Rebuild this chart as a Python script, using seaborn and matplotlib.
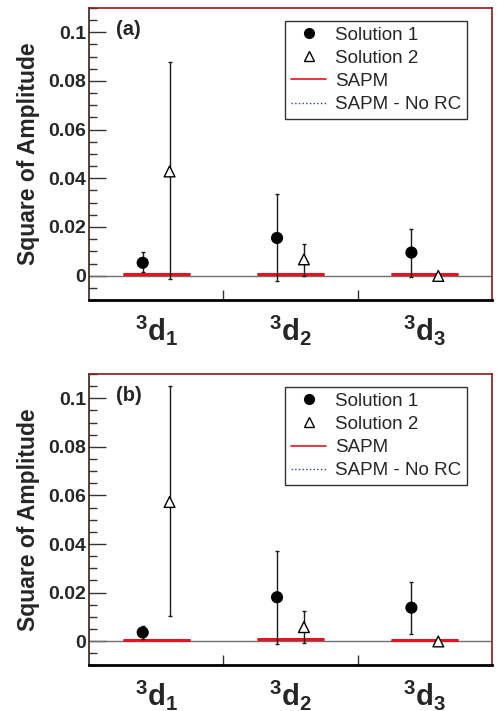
import numpy as np
import pandas as pd
import seaborn as sns
import matplotlib.pyplot as plt
from matplotlib.ticker import MultipleLocator, FixedLocator
from matplotlib.lines import Line2D

# partial waves
waves = ['3d1', '3d2', '3d3']
tick_labels = [r'$^{\mathbf{3}}\mathbf{d}_{\mathbf{1}}$',
               r'$^{\mathbf{3}}\mathbf{d}_{\mathbf{2}}$',
               r'$^{\mathbf{3}}\mathbf{d}_{\mathbf{3}}$']

# panel (a)
a_sol1 = [0.0053, 0.0155, 0.0095]
a_sol1_lo = [0.0014, -0.0022, -0.0004]
a_sol1_hi = [0.0096, 0.0335, 0.0193]
a_sol2 = [0.0428, 0.0067, -0.0001]
a_sol2_lo = [-0.0014, 0.0000, -0.0001]
a_sol2_hi = [0.0878, 0.0132, -0.0001]
a_sapm = [0.0007, 0.0008, 0.0007]
a_sapm_norc = [0.0007, 0.0008, 0.0007]

# panel (b)
b_sol1 = [0.0036, 0.0181, 0.0138]
b_sol1_lo = [0.0010, -0.0012, 0.0030]
b_sol1_hi = [0.0062, 0.0371, 0.0245]
b_sol2 = [0.0573, 0.0058, -0.0001]
b_sol2_lo = [0.0103, -0.0008, -0.0001]
b_sol2_hi = [0.1050, 0.0124, -0.0001]
b_sapm = [0.0007, 0.0008, 0.0007]
b_sapm_norc = [0.0007, 0.0008, 0.0007]

sns.set_theme(style='ticks')
plt.rcParams['font.family'] = ['Liberation Sans', 'DejaVu Sans']
plt.rcParams['mathtext.fontset'] = 'custom'
plt.rcParams['mathtext.bf'] = 'Liberation Sans:bold'
plt.rcParams['mathtext.rm'] = 'Liberation Sans:bold'

frame_red = '#8b1a1a'


def draw_panel(ax, tag, sol1, s1lo, s1hi, sol2, s2lo, s2hi, sapm, sapm_norc):
    idx = np.arange(len(waves)) + 0.5
    df = pd.DataFrame({
        'x': np.concatenate([idx - 0.1, idx + 0.1]),
        'y': sol1 + sol2,
        'lo': s1lo + s2lo,
        'hi': s1hi + s2hi,
        'sol': ['Solution 1'] * 3 + ['Solution 2'] * 3,
    })

    ax.axhline(0, color='#707070', lw=1.0, zorder=1)
    ax.hlines(sapm_norc, idx - 0.25, idx + 0.25, colors='#2b3fa0', lw=1.0,
              linestyles=':', zorder=2)
    ax.hlines(sapm, idx - 0.25, idx + 0.25, colors='#e8121e', lw=2.2, zorder=3)

    for _, r in df.iterrows():
        if r['hi'] - r['lo'] > 1e-4:
            ax.errorbar(r['x'], r['y'], yerr=[[r['y'] - r['lo']], [r['hi'] - r['y']]],
                        fmt='none', ecolor='#1a1a1a', elinewidth=1.0, capsize=1.5,
                        capthick=1.0, zorder=4)

    sns.scatterplot(data=df, x='x', y='y', style='sol', hue='sol',
                    markers={'Solution 1': 'o', 'Solution 2': '^'},
                    palette={'Solution 1': 'black', 'Solution 2': 'white'},
                    s=60, edgecolor='black', linewidth=1.0, legend=False,
                    zorder=5, ax=ax)

    ax.set_xlim(0, 3)
    ax.set_ylim(-0.01, 0.11)
    ax.set_xlabel('')
    ax.set_ylabel('Square of Amplitude', fontsize=16.5, fontweight='bold', labelpad=6)

    ax.xaxis.set_major_locator(FixedLocator([1, 2]))
    ax.xaxis.set_minor_locator(FixedLocator(idx))
    ax.set_xticklabels(['', ''])
    ax.set_xticklabels(tick_labels, minor=True, fontsize=21)
    ax.tick_params(axis='x', which='major', direction='in', length=7, width=1, color='#333333')
    ax.tick_params(axis='x', which='minor', length=0, pad=9)

    ax.set_yticks([0, 0.02, 0.04, 0.06, 0.08, 0.1])
    ax.yaxis.set_minor_locator(MultipleLocator(0.005))
    ax.set_yticklabels(['0', '0.02', '0.04', '0.06', '0.08', '0.1'],
                       fontsize=14, fontweight='bold')
    for t in ax.get_yticklabels():
        t.set_fontweight('bold')
    ax.tick_params(axis='y', which='major', direction='in', length=12, width=1,
                   color='#333333', pad=2)
    ax.tick_params(axis='y', which='minor', direction='in', length=6, width=1,
                   color='#333333')

    ax.spines['bottom'].set_linewidth(2.0)
    ax.spines['bottom'].set_color('black')
    ax.spines['left'].set_linewidth(1.2)
    ax.spines['left'].set_color('#3a2020')
    for side in ['top', 'right']:
        ax.spines[side].set_visible(True)
        ax.spines[side].set_linewidth(1.2)
        ax.spines[side].set_color(frame_red)

    ax.text(0.068, 0.925, tag, transform=ax.transAxes, fontsize=14.5,
            fontweight='bold', va='center', ha='left')

    handles = [
        Line2D([], [], marker='o', color='black', ls='none', markersize=7),
        Line2D([], [], marker='^', markerfacecolor='white', markeredgecolor='black',
               ls='none', markersize=7),
        Line2D([], [], color='#e8121e', lw=1.2),
        Line2D([], [], color='#2b3fa0', lw=1.0, ls=':'),
    ]
    leg = ax.legend(handles, ['Solution 1', 'Solution 2', 'SAPM', 'SAPM - No RC'],
                    loc='upper right', bbox_to_anchor=(0.937, 0.955),
                    borderaxespad=0, fontsize=13.5, frameon=True, fancybox=False,
                    handlelength=1.9, handletextpad=0.45, labelspacing=0.32,
                    borderpad=0.3)
    leg.get_frame().set_edgecolor('black')
    leg.get_frame().set_linewidth(1.0)


fig = plt.figure(figsize=(4.97, 7.11), dpi=100)
ax_a = fig.add_axes([0.179, 0.578, 0.811, 0.411])
ax_b = fig.add_axes([0.179, 0.064, 0.811, 0.410])

draw_panel(ax_a, '(a)', a_sol1, a_sol1_lo, a_sol1_hi, a_sol2, a_sol2_lo, a_sol2_hi,
           a_sapm, a_sapm_norc)
draw_panel(ax_b, '(b)', b_sol1, b_sol1_lo, b_sol1_hi, b_sol2, b_sol2_lo, b_sol2_hi,
           b_sapm, b_sapm_norc)

fig.savefig('out.png', dpi=100)
